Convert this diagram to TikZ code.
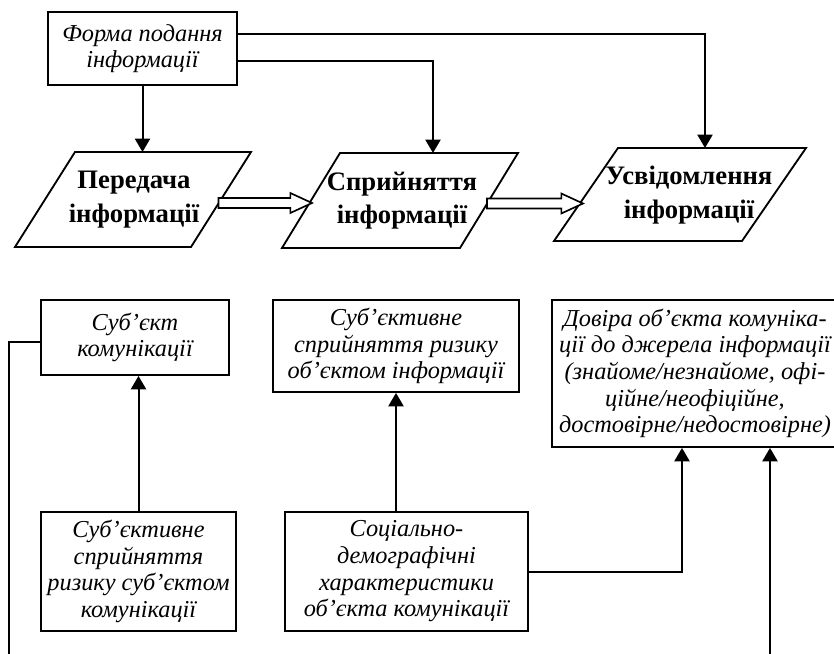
\documentclass[tikz,border=0pt]{standalone}
\usepackage{fontspec}
\setmainfont{Liberation Serif}
\usetikzlibrary{arrows.meta,calc}

\begin{document}
\begin{tikzpicture}[
  x=0.6pt, y=-0.6pt,
  box/.style={draw,line width=1.1pt,align=center,inner sep=1pt,font=\itshape\fontsize{14.6}{16}\selectfont},
  paratext/.style={align=center,inner sep=0pt,font=\bfseries\fontsize{16}{20}\selectfont},
  frame/.style={line width=1.1pt},
  arrow/.style={-{Triangle[length=8pt,width=9pt]},line width=1.2pt},
  link/.style={line width=1.2pt},
  hollow/.style={line width=1pt,fill=white}
]
\useasboundingbox (0,0) rectangle (834,654);
% upper chain
\node[box,minimum width=113.4pt,minimum height=43.8pt] (forma) at (142.5,48.5) {Форма подання\\інформації};
\node[paratext] (transfer) at (134,199.5) {Передача\\інформації};
\draw[frame] ($(transfer)+(-59,-47.5)$) -- ++(176,0) -- ++(-60,95) -- ++(-176,0) -- cycle;
\node[paratext] (percept) at (402,200.5) {Сприйняття\\інформації};
\draw[frame] ($(percept)+(-62,-47.5)$) -- ++(178,0) -- ++(-58,95) -- ++(-178,0) -- cycle;
\node[paratext] (aware) at (689,195) {Усвідомлення\\інформації};
\draw[frame] ($(aware)+(-71,-47)$) -- ++(188,0) -- ++(-64,93) -- ++(-188,0) -- cycle;
\coordinate (transfer-top) at ($(transfer)+(8,-47.5)$);
\coordinate (percept-top) at ($(percept)+(31,-47.5)$);
\coordinate (aware-top) at ($(aware)+(16,-47)$);
\draw[arrow] (forma.south) -- (forma.south |- transfer-top);
\draw[arrow] ([yshift=-7.5pt]forma.east) -| (percept-top);
\draw[arrow] ([yshift=8.7pt]forma.east) -| (aware-top);
\draw[hollow] let \p1=($(transfer)+(84.5,3.5)$), \p2=($(percept)+(-90,3.5)$) in
  (\x1,\y1+3pt) -- (\x2-13pt,\y1+3pt) -- (\x2-13pt,\y1+6pt) -- (\x2,\y1)
  -- (\x2-13pt,\y1-6pt) -- (\x2-13pt,\y1-3pt) -- (\x1,\y1-3pt) -- cycle;
\draw[hollow] let \p1=($(percept)+(85,3)$), \p2=($(aware)+(-106,8)$) in
  (\x1,\y1+3pt) -- (\x2-13pt,\y1+3pt) -- (\x2-13pt,\y1+6pt) -- (\x2,\y1)
  -- (\x2-13pt,\y1-6pt) -- (\x2-13pt,\y1-3pt) -- (\x1,\y1-3pt) -- cycle;
% lower blocks
\node[box,minimum width=112.8pt,minimum height=45pt] (subject) at (135,337.5) {Суб’єкт\\комунікації};
\node[box,minimum width=147.6pt,minimum height=55.2pt] (objview) at (396,346) {Суб’єктивне\\сприйняття ризику\\об’єктом інформації};
\node[box,minimum width=171.6pt,minimum height=88.2pt] (trust) at (695,373.5) {Довіра об’єкта комуніка-\\ції до джерела інформації\\(знайоме/незнайоме, офі-\\ційне/неофіційне,\\достовірне/недостовірне)};
\node[box,minimum width=117pt,minimum height=71.4pt] (subjview) at (138.5,571.5) {Суб’єктивне\\сприйняття\\ризику суб’єктом\\комунікації};
\node[box,minimum width=145.8pt,minimum height=71.4pt] (social) at (406.5,571.5) {Соціально-\\демографічні\\характеристики\\об’єкта комунікації};
\coordinate (leftend) at (9,662);
\coordinate (rightend) at (770,662);
\draw[arrow] (subjview.north) -- (subjview.north |- subject.south);
\draw[arrow] (objview.south |- social.north) -- (objview.south);
\draw[arrow] (social.east) -| ([xshift=-7.8pt]trust.south);
\draw[arrow] (rightend) -- (rightend |- trust.south);
\draw[link] ([yshift=-2.7pt]subject.west) -| (leftend);
\end{tikzpicture}
\end{document}
